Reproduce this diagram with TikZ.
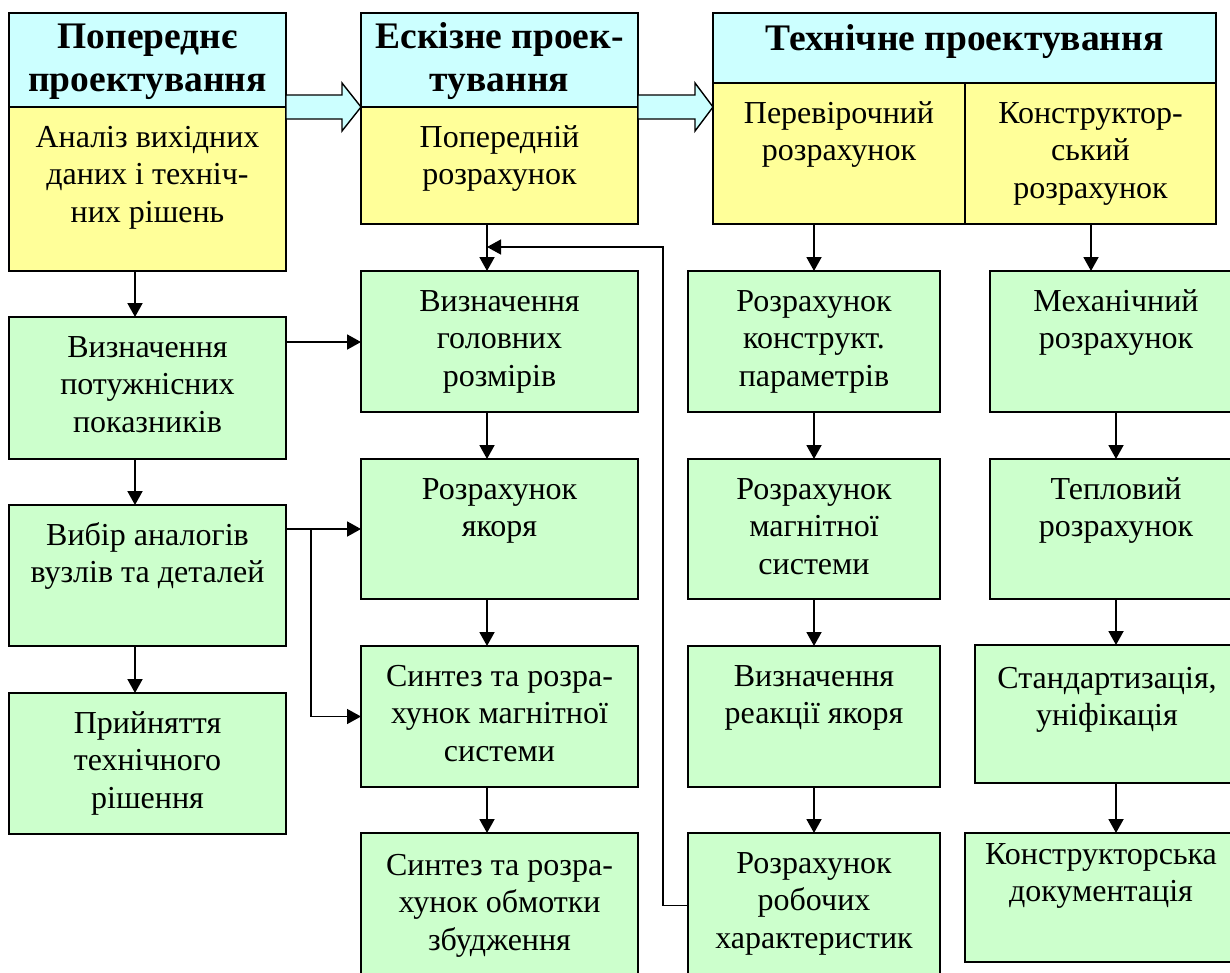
\documentclass[tikz,border=0pt]{standalone}
\usepackage{fontspec}
\setmainfont{Liberation Serif}
\usetikzlibrary{arrows.meta,calc}
\definecolor{hcyan}{HTML}{CCFFFF}
\definecolor{hyel}{HTML}{FFFF99}
\definecolor{hgrn}{HTML}{CCFFCC}
\begin{document}
\begin{tikzpicture}[x=1pt,y=-1pt,
 box/.style={draw=black, line width=1.9pt, inner sep=0pt, outer sep=0pt, anchor=north west},
 gbox/.style={box, fill=hgrn},
 ybox/.style={box, fill=hyel},
 cbox/.style={box, fill=hcyan},
 txt/.style={anchor=north, inner sep=0pt, align=center, font=\fontsize{32}{37.7}\selectfont},
 ttl/.style={anchor=north, inner sep=0pt, align=center, font=\fontsize{37.5}{43}\selectfont\bfseries},
 arr/.style={line width=1.9pt, -{Triangle[length=14pt,width=15pt]}},
 fb/.style={line width=1.4pt, -{Triangle[length=14pt,width=15pt]}},
 blk/.style={draw=black, line width=1.4pt, fill=hcyan, line join=miter}
]
\useasboundingbox (0,0) rectangle (1230,972);

% column 1
\node[cbox, minimum width=277pt, minimum height=94pt] (h1) at (9,13) {};
\node[ybox, minimum width=277pt, minimum height=164pt] (y1) at (9,107) {};
\node[gbox, minimum width=277pt, minimum height=142pt] (a2) at (9,317) {};
\node[gbox, minimum width=277pt, minimum height=141pt] (a3) at (9,505) {};
\node[gbox, minimum width=277pt, minimum height=141pt] (a4) at (9,693) {};

% column 2
\node[cbox, minimum width=277pt, minimum height=94pt] (h2) at (361,13) {};
\node[ybox, minimum width=277pt, minimum height=117pt] (y2) at (361,107) {};
\node[gbox, minimum width=277pt, minimum height=141pt] (b1) at (361,271) {};
\node[gbox, minimum width=277pt, minimum height=140pt] (b2) at (361,459) {};
\node[gbox, minimum width=277pt, minimum height=141pt] (b3) at (361,646) {};
\node[gbox, minimum width=277pt, minimum height=145pt] (b4) at (361,833) {};

% column 3 / 4 header
\node[cbox, minimum width=503pt, minimum height=70pt] (h3) at (713,13) {};
\node[ybox, minimum width=252pt, minimum height=141pt] (y3l) at (713,83) {};
\node[ybox, minimum width=251pt, minimum height=141pt] (y3r) at (965,83) {};

% column 3
\node[gbox, minimum width=252pt, minimum height=141pt] (c1) at (688,271) {};
\node[gbox, minimum width=252pt, minimum height=140pt] (c2) at (688,459) {};
\node[gbox, minimum width=252pt, minimum height=141pt] (c3) at (688,646) {};
\node[gbox, minimum width=252pt, minimum height=145pt] (c4) at (688,833) {};

% column 4
\node[gbox, minimum width=252pt, minimum height=141pt] (d1) at (990,271) {};
\node[gbox, minimum width=252pt, minimum height=140pt] (d2) at (990,459) {};
\node[gbox, minimum width=264pt, minimum height=138pt] (d3) at (975,645) {};
\node[gbox, minimum width=272pt, minimum height=129pt] (d4) at (965,833) {};

% titles
\node[ttl] (th1) at ([yshift=-5pt]h1.north) {\strut Попереднє\\проектування};
\node[ttl] (th2) at ([yshift=-5pt]h2.north) {\strut Ескізне проек-\\тування};
\node[ttl] (th3) at ([yshift=-7.5pt]h3.north) {\strut Технічне проектування};

% texts
\node[txt] (ty1) at ([yshift=-13.6pt]y1.north) {\strut Аналіз вихідних\\даних і техніч-\\них рішень};
\node[txt] (ta2) at ([yshift=-13.6pt]a2.north) {\strut Визначення\\потужнісних\\показників};
\node[txt] (ta3) at ([yshift=-13.6pt]a3.north) {\strut Вибір аналогів\\вузлів та деталей};
\node[txt] (ta4) at ([yshift=-13.6pt]a4.north) {\strut Прийняття\\технічного\\рішення};

\node[txt] (ty2) at ([yshift=-13.6pt]y2.north) {\strut Попередній\\розрахунок};
\node[txt] (tb1) at ([yshift=-13.6pt]b1.north) {\strut Визначення\\головних\\розмірів};
\node[txt] (tb2) at ([yshift=-13.6pt]b2.north) {\strut Розрахунок\\якоря};
\node[txt] (tb3) at ([yshift=-13.6pt]b3.north) {\strut Синтез та розра-\\хунок магнітної\\системи};
\node[txt] (tb4) at ([yshift=-15.6pt]b4.north) {\strut Синтез та розра-\\хунок обмотки\\збудження};

\node[txt] (ty3l) at ([yshift=-13.6pt]y3l.north) {\strut Перевірочний\\розрахунок};
\node[txt] (ty3r) at ([yshift=-13.6pt]y3r.north) {\strut Конструктор-\\ський\\розрахунок};

\node[txt] (tc1) at ([yshift=-13.6pt]c1.north) {\strut Розрахунок\\конструкт.\\параметрів};
\node[txt] (tc2) at ([yshift=-13.6pt]c2.north) {\strut Розрахунок\\магнітної\\системи};
\node[txt] (tc3) at ([yshift=-13.6pt]c3.north) {\strut Визначення\\реакції якоря};
\node[txt] (tc4) at ([yshift=-13.6pt]c4.north) {\strut Розрахунок\\робочих\\характеристик};

\node[txt] (td1) at ([yshift=-13.6pt]d1.north) {\strut Механічний\\розрахунок};
\node[txt] (td2) at ([yshift=-13.6pt]d2.north) {\strut Тепловий\\розрахунок};
\node[txt] (td3) at ([yshift=-16.6pt]d3.north) {\strut Стандартизація,\\уніфікація};
\node[txt] (td4) at ([yshift=-4.6pt]d4.north) {\strut Конструкторська\\документація};

% block arrows
\draw[blk] ($(h1.south east)+(0,-12)$) -- ++(56,0) -- ++(0,-12) -- (h2.south west) -- ++(-19,24) -- ++(0,-12) -- ($(h1.south east)+(0,12)$) -- cycle;
\draw[blk] ($(h2.south east)+(0,-12)$) -- ++(57,0) -- ++(0,-12) -- ($(h3.south west)+(0,24)$) -- ++(-18,24) -- ++(0,-12) -- ($(h2.south east)+(0,12)$) -- cycle;

% arrow start points
\coordinate (py1) at ($(y1.south west)+(126,0)$);
\coordinate (pa2) at ($(a2.south west)+(126,0)$);
\coordinate (pa3) at ($(a3.south west)+(126,0)$);
\coordinate (py2) at ($(y2.south west)+(126,0)$);
\coordinate (pb1) at ($(b1.south west)+(126,0)$);
\coordinate (pb2) at ($(b2.south west)+(126,0)$);
\coordinate (pb3) at ($(b3.south west)+(126,0)$);
\coordinate (py3l) at ($(y3l.south west)+(101,0)$);
\coordinate (pc1) at ($(c1.south west)+(126,0)$);
\coordinate (pc2) at ($(c2.south west)+(126,0)$);
\coordinate (pc3) at ($(c3.south west)+(126,0)$);
\coordinate (py3r) at ($(y3r.south west)+(126,0)$);
\coordinate (pd1) at ($(d1.south west)+(126,0)$);
\coordinate (pd2) at ($(d2.south west)+(126,0)$);
\coordinate (pd3) at ($(d3.south west)+(141,0)$);

% vertical arrows
\draw[arr] (py1) -- (py1 |- a2.north);
\draw[arr] (pa2) -- (pa2 |- a3.north);
\draw[arr] (pa3) -- (pa3 |- a4.north);

\draw[arr] (py2) -- (py2 |- b1.north);
\draw[arr] (pb1) -- (pb1 |- b2.north);
\draw[arr] (pb2) -- (pb2 |- b3.north);
\draw[arr] (pb3) -- (pb3 |- b4.north);

\draw[arr] (py3l) -- (py3l |- c1.north);
\draw[arr] (pc1) -- (pc1 |- c2.north);
\draw[arr] (pc2) -- (pc2 |- c3.north);
\draw[arr] (pc3) -- (pc3 |- c4.north);

\draw[arr] (py3r) -- (py3r |- d1.north);
\draw[arr] (pd1) -- (pd1 |- d2.north);
\draw[arr] (pd2) -- (pd2 |- d3.north);
\draw[arr] (pd3) -- (pd3 |- d4.north);

% horizontal arrows
\coordinate (qa2) at ($(a2.north east)+(0,25)$);
\coordinate (qa3) at ($(a3.north east)+(0,24)$);
\coordinate (br) at ($(a3.north east)+(25,24)$);
\draw[arr] (qa2) -- (qa2 -| b1.west);
\draw[arr] (qa3) -- (qa3 -| b2.west);
\draw[fb] (br) |- (b3.west);

% feedback
\coordinate (fbc) at ($(b1.north east)+(25,-24)$);
\coordinate (fbe) at ($(b1.north west)+(126,-24)$);
\draw[fb] (c4.west) -| (fbc) -- (fbe);
\end{tikzpicture}
\end{document}
